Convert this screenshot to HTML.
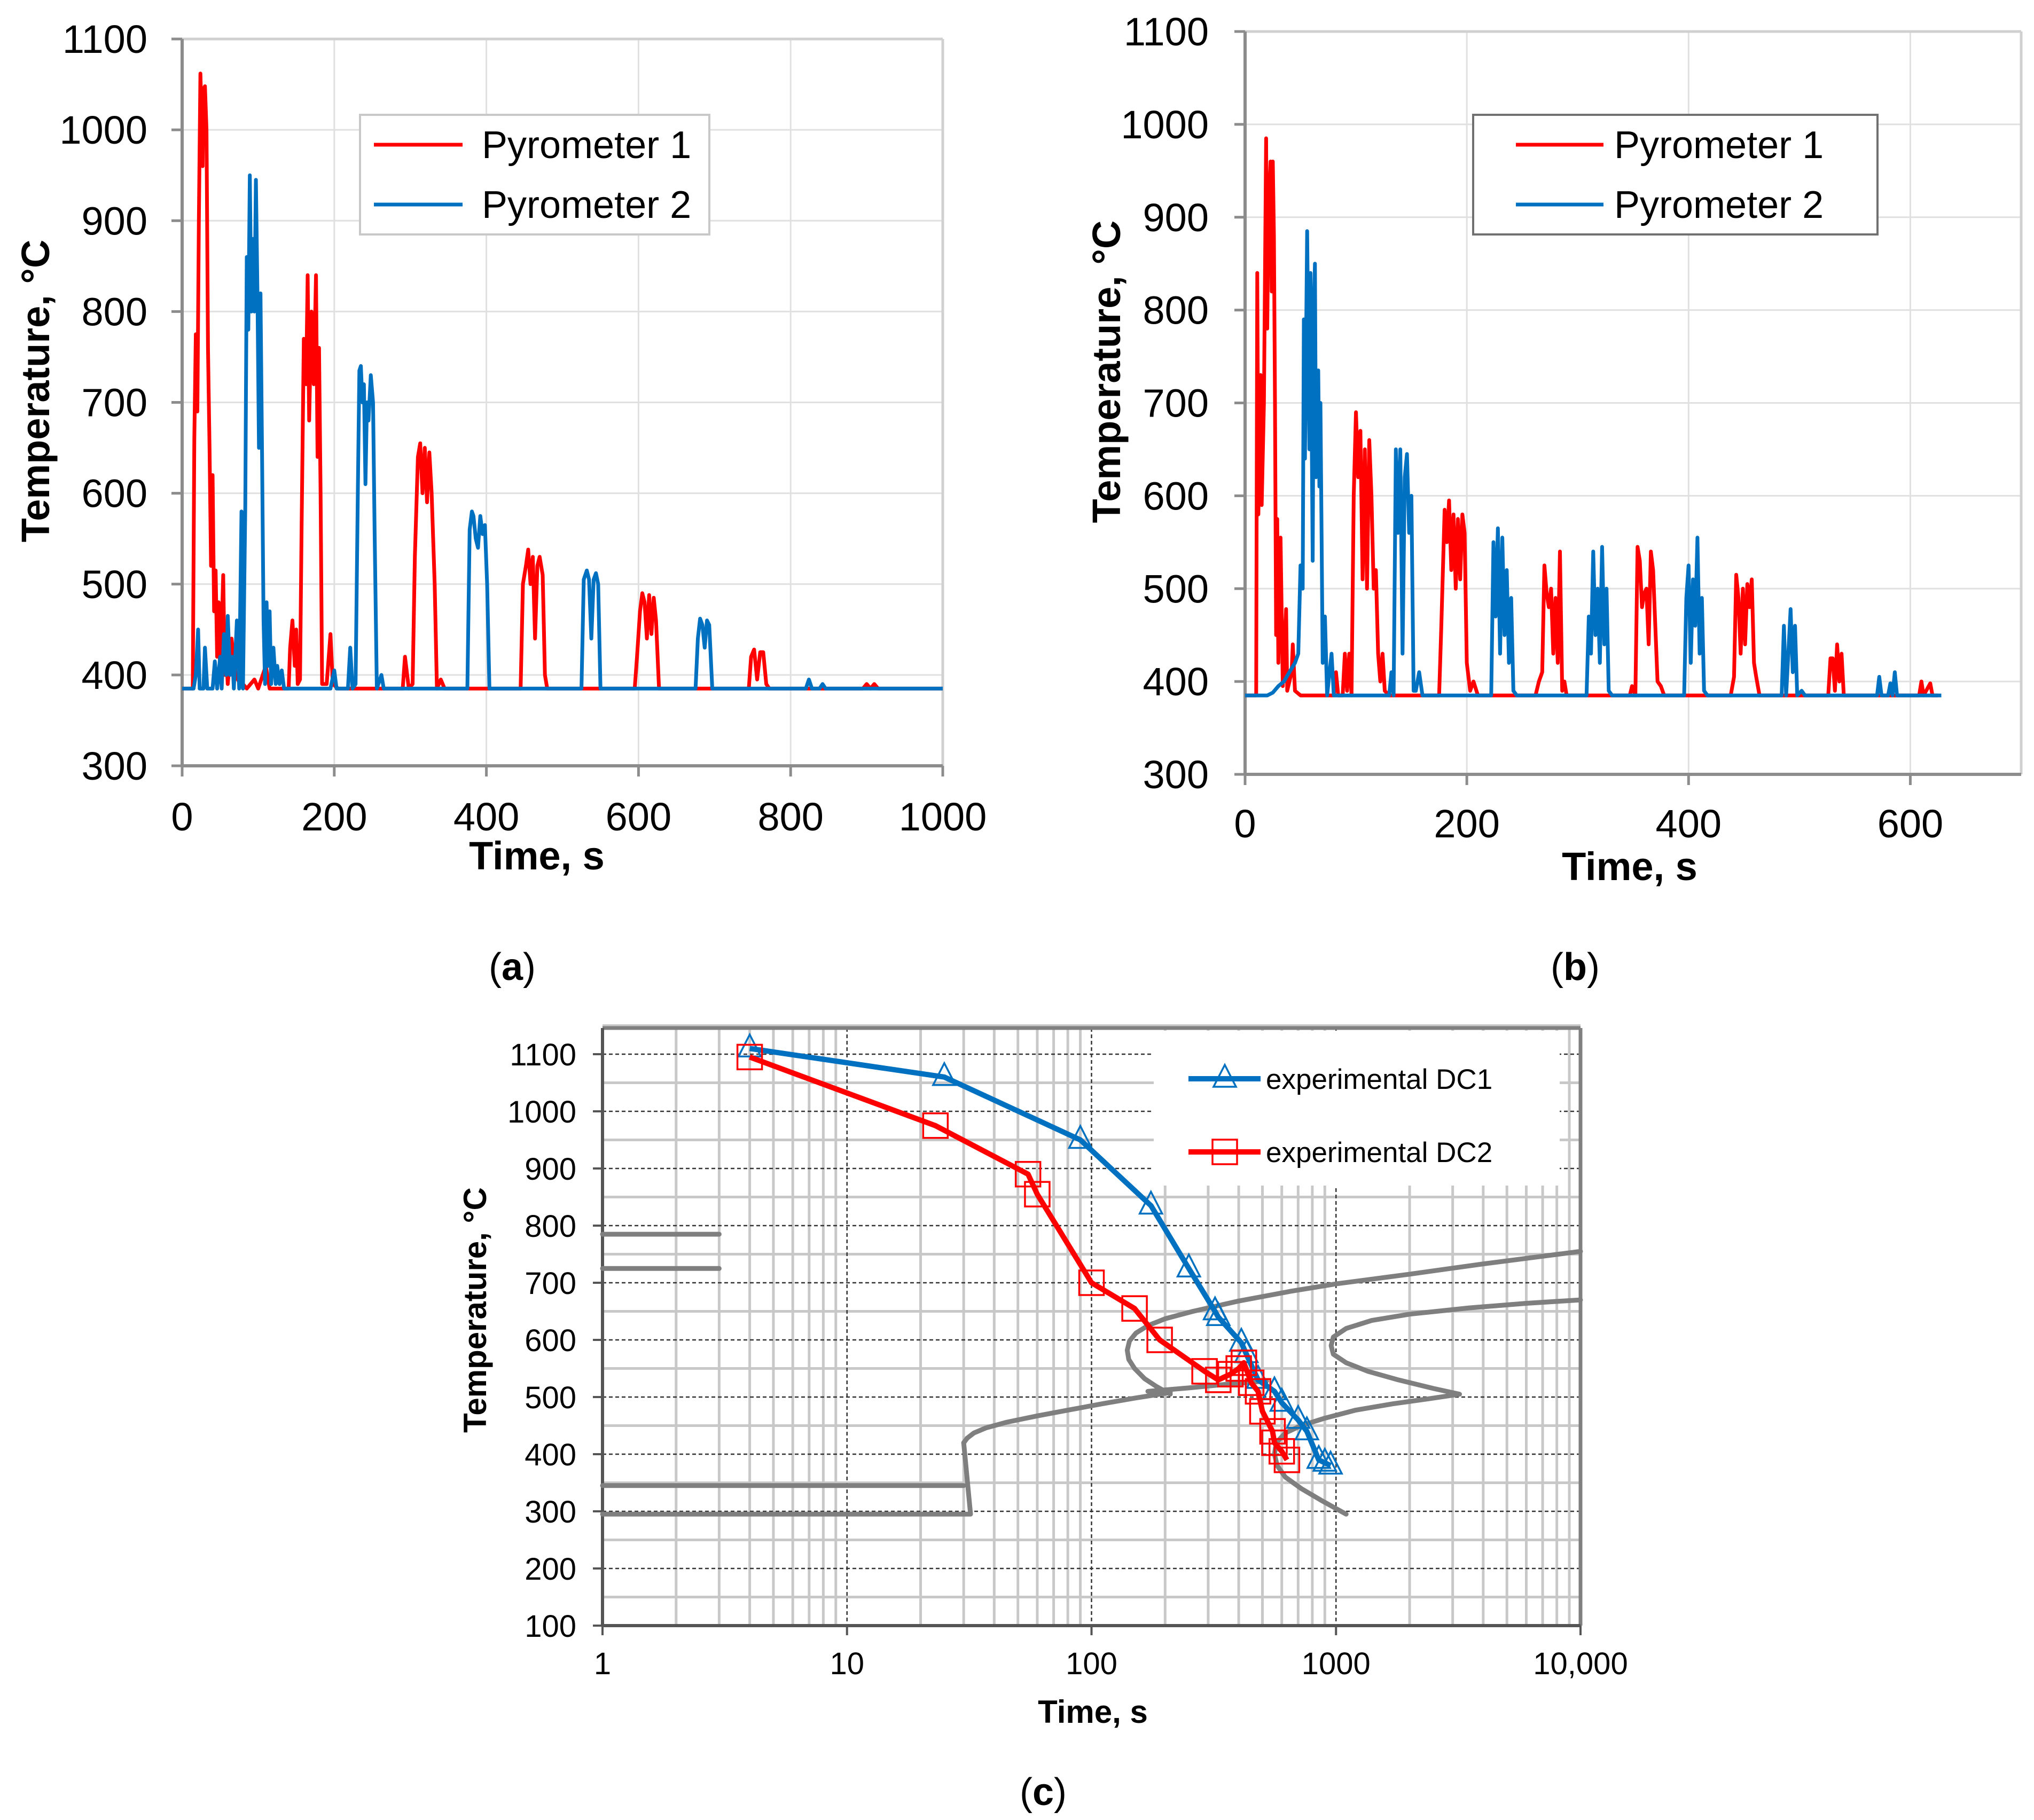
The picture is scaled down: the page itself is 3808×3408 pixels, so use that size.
<!DOCTYPE html>
<html><head><meta charset="utf-8"><style>
html,body{margin:0;padding:0;background:#fff}
svg{display:block}
text{font-family:"Liberation Sans",Arial,sans-serif}
</style></head><body>
<svg id="fig" width="3808" height="3408" viewBox="0 0 3808 3408" xmlns="http://www.w3.org/2000/svg">
<rect width="3808" height="3408" fill="#fff"/>
</svg>
<script>
// ---- Panel (a) data ----
const aYTicks = [300,400,500,600,700,800,900,1000,1100];
const aXTicks = [0,200,400,600,800,1000];
const aP1t = [0,14,16,18,20,22,24,26,27,28,30,32,34,36,38,40,42,44,46,48,50,52,54,56,58,60,65,70,75,80,85,95,100,110,115,140,142,145,148,150,152,155,157,160,163,165,167,170,173,176,178,180,182,184,190,195,198,205,290,293,298,303,306,310,313,316,319,322,325,328,332,335,340,345,445,448,452,455,458,461,464,467,470,474,477,480,595,598,602,605,608,611,614,617,620,623,627,745,748,752,756,760,764,768,772,895,900,905,910,915,1000];
const aP1v = [385,385,660,775,690,900,1062,1000,960,1045,1048,1000,760,650,520,620,470,515,420,480,400,450,510,400,420,390,440,400,392,390,385,395,385,410,385,385,430,460,410,450,390,395,560,770,720,840,680,800,720,840,640,760,600,390,390,445,390,385,385,420,385,390,530,640,655,600,650,590,645,600,500,385,395,385,385,500,520,538,500,530,440,520,530,510,400,385,385,420,470,490,480,440,488,445,485,460,385,385,420,428,395,425,425,390,385,385,390,385,390,385,385];
const aP2t = [0,15,18,21,23,28,30,33,40,43,46,50,52,55,58,60,63,66,68,72,75,78,80,83,85,87,89,91,93,95,97,99,101,103,105,107,109,111,113,115,117,120,123,125,128,131,134,195,200,203,218,221,224,228,231,233,235,237,239,241,243,245,248,251,253,256,262,265,375,378,381,383,386,389,392,395,398,401,404,525,528,532,535,538,541,544,547,550,675,678,681,684,687,690,693,697,820,824,828,838,842,846,1000];
const aP2v = [385,385,400,450,385,385,430,385,385,415,385,420,385,445,400,465,400,420,385,460,385,580,385,585,860,780,950,800,880,800,945,820,650,820,650,460,390,480,410,470,390,430,390,410,390,405,385,385,405,385,385,430,385,390,600,735,740,700,720,610,700,680,730,700,560,385,400,385,385,560,580,575,550,540,575,555,565,500,385,385,505,515,505,440,505,512,500,385,385,440,462,455,430,460,455,385,385,395,385,385,390,385,385];

// ---- Panel (b) data ----
const bYTicks = [300,400,500,600,700,800,900,1000,1100];
const bXTicks = [0,200,400,600];
const bP1t = [0,10,11,12,14,15,17,19,20,21,23,24,25,26,27,28,29,30,32,34,36,37,38,42,43,45,50,80,82,84,88,90,92,94,96,98,100,102,104,106,108,110,112,114,116,118,120,122,124,126,130,175,177,180,182,184,186,188,190,192,194,196,198,200,203,206,210,262,265,268,270,272,274,276,278,280,282,284,286,288,290,347,349,352,354,356,358,360,362,364,366,368,370,372,375,378,438,441,443,445,447,449,451,453,455,457,459,461,464,526,528,530,532,534,536,538,540,608,610,612,618,620,625];
const bP1v = [385,385,840,580,730,590,700,985,780,900,960,820,960,880,700,450,575,420,555,395,450,478,390,410,440,390,385,385,410,385,385,430,390,430,385,600,690,620,670,510,650,500,660,600,500,520,430,400,430,390,385,385,460,585,550,595,520,580,500,575,510,580,560,420,390,400,385,385,400,410,525,495,480,500,430,490,420,540,390,400,385,385,395,385,545,530,480,495,500,440,540,520,460,400,395,385,385,405,515,490,430,500,440,505,480,510,420,405,385,385,425,425,390,440,400,430,385,385,400,385,398,385,385];
const bP2t = [0,20,25,30,35,40,45,48,50,52,53,54,56,58,59,61,62,63,64,66,67,68,70,72,74,78,80,130,132,134,136,138,140,142,144,146,148,150,152,154,157,160,222,224,226,228,230,232,234,236,238,240,242,245,308,310,312,314,316,318,320,322,324,326,328,331,396,398,400,402,404,406,408,410,412,414,417,484,486,488,490,492,494,496,498,502,505,570,572,574,580,582,584,586,588,628];
const bP2v = [385,385,388,395,400,410,420,430,525,500,790,640,885,650,840,530,800,850,620,735,610,700,420,470,385,430,385,385,410,385,650,560,650,430,620,645,560,600,390,390,410,385,385,550,470,565,430,555,450,520,420,490,390,385,385,470,430,540,450,500,420,545,440,500,390,385,385,490,525,420,510,460,555,430,490,390,385,385,460,385,430,478,410,460,385,390,385,385,405,385,385,398,385,410,385,385];

// ---- Panel (c) data ----
const cYTicks = [100,200,300,400,500,600,700,800,900,1000,1100];
const cXTicks = [1,10,100,1000,10000];
const cXLabels = ["1","10","100","1000","10,000"];
const dc1t = [4,25,90,175,250,320,330,410,430,480,560,600,700,760,850,900,950];
const dc1v = [1110,1060,950,835,725,650,640,595,575,530,510,490,460,440,390,385,380];
const dc2t = [4,23,55,60,100,150,190,290,330,370,400,420,450,480,500,550,560,600,630];
const dc2v = [1095,975,890,855,700,655,600,545,530,540,550,560,525,510,475,440,420,405,390];
// CCT diagram curves (gray)
const ac3t = [1,3], ac3v = [785,785];
const ac1t = [1,3], ac1v = [725,725];
const mst = [1,30], msv = [345,345];
const mft = [1,32,30], mfv = [295,295,420];
const bsT = [30,31,33,37,45,60,80,110,150,190,210], bsV = [420,428,437,446,456,467,477,488,498,505,508];
const fsT = [210,185,165,150,142,140,143,152,170,200,260,400,650,1000,2000,4000,10000], fsV = [505,518,532,550,566,582,598,612,625,637,650,668,685,698,715,733,755];
const ffT = [10000,6000,3500,2000,1400,1100,975,955,975,1100,1350,1800,2500,3200,2400,1700,1200,900,720,620,570,560,575,620,720,880,1100];
const ffV = [670,664,656,645,634,620,605,590,575,560,545,530,515,505,497,488,477,463,450,437,420,400,380,360,340,318,295];
const bLowT = [170,250,350,450,520], bLowV = [510,516,522,526,528];

const NS = "http://www.w3.org/2000/svg";
const fig = document.getElementById('fig');
function mk(tag, attrs, parent){const e=document.createElementNS(NS,tag);for(const k in attrs)e.setAttribute(k,attrs[k]);(parent||fig).appendChild(e);return e;}
function txt(s, attrs, parent){const e=mk('text',attrs,parent);e.textContent=s;return e;}

function linePanel(cfg){
  const g = mk('g',{});
  
  
  const X = v => cfg.L + (v - cfg.x0)/(cfg.x1 - cfg.x0)*(cfg.R - cfg.L);
  const Y = v => cfg.B - (v - 300)/(800)*(cfg.B - cfg.T);
  cfg.yTicks.forEach(t=>{ if(t>300){const l=mk('line',{x1:cfg.L,x2:cfg.R,y1:Y(t),y2:Y(t),stroke:'#e0e0e0','stroke-width':3},g);
    
    }});
  cfg.xTicks.forEach(t=>{ if(t>0){const l=mk('line',{x1:X(t),x2:X(t),y1:cfg.T,y2:cfg.B,stroke:'#e0e0e0','stroke-width':3},g);
    
    }});
  mk('line',{x1:cfg.L,x2:cfg.R,y1:cfg.T,y2:cfg.T,stroke:'#d0d0d0','stroke-width':5},g);
  mk('line',{x1:cfg.R,x2:cfg.R,y1:cfg.T,y2:cfg.B,stroke:'#d0d0d0','stroke-width':5},g);
  const ax=mk('line',{x1:cfg.L,x2:cfg.L,y1:cfg.T,y2:cfg.B,stroke:'#8c8c8c','stroke-width':6},g);
  
  
  const bx=mk('line',{x1:cfg.L,x2:cfg.R,y1:cfg.B,y2:cfg.B,stroke:'#8c8c8c','stroke-width':6},g);
  
  
  cfg.yTicks.forEach(t=>{
    mk('line',{x1:cfg.L-20,x2:cfg.L,y1:Y(t),y2:Y(t),stroke:'#8c8c8c','stroke-width':5},g);
    const e=txt(String(t),{x:cfg.ylx,y:Y(t)+26,'text-anchor':'end','font-size':74,fill:'#000'},g);
    
    
  });
  cfg.xTicks.forEach(t=>{
    mk('line',{x1:X(t),x2:X(t),y1:cfg.B,y2:cfg.B+20,stroke:'#8c8c8c','stroke-width':5},g);
    const e=txt(String(t),{x:X(t),y:cfg.xly,'text-anchor':'middle','font-size':74,fill:'#000'},g);
    
    
  });
  const yt=txt('Temperature, °C',{x:0,y:0,'text-anchor':'middle','font-size':74,'font-weight':'bold',transform:`translate(${cfg.ytx},${cfg.yty}) rotate(-90)`},g);
  
  
  const xt=txt('Time, s',{x:cfg.xtx,y:cfg.xty,'text-anchor':'middle','font-size':74,'font-weight':'bold'},g);
  
  
  const pts=(ts,vs)=>ts.map((t,i)=>X(t).toFixed(1)+','+Y(vs[i]).toFixed(1)).join(' ');
  const s1=mk('polyline',{points:pts(cfg.p1t,cfg.p1v),fill:'none',stroke:'#ff0000','stroke-width':7,'stroke-linejoin':'round'},g);
  
  
  const s2=mk('polyline',{points:pts(cfg.p2t,cfg.p2v),fill:'none',stroke:'#0070c0','stroke-width':7,'stroke-linejoin':'round'},g);
  
  
  const lg=mk('g',{},g);
  
  
  const [lx,ly,lw,lh]=cfg.leg;
  mk('rect',{x:lx,y:ly,width:lw,height:lh,fill:'#fff',stroke:cfg.legStroke,'stroke-width':4},lg);
  [['Pyrometer 1','#ff0000',ly+56],['Pyrometer 2','#0070c0',ly+168]].forEach(([n,c,yy])=>{
    const le=mk('g',{},lg);
    
    
    mk('line',{x1:cfg.legL1,x2:cfg.legL2,y1:yy,y2:yy,stroke:c,'stroke-width':7},le);
    txt(n,{x:cfg.legTx,y:yy+25,'font-size':72},le);
  });
}

linePanel({name:'chart-a',L:341,R:1765,T:73,B:1434,x0:0,x1:1000,yTicks:aYTicks,xTicks:aXTicks,
  ylx:276,xly:1555,ytx:92,yty:732,xtx:1005,xty:1628,p1t:aP1t,p1v:aP1v,p2t:aP2t,p2v:aP2v,
  leg:[674,215,654,224],legStroke:'#c8c8c8',legL1:700,legL2:866,legTx:902});
linePanel({name:'chart-b',L:2331,R:3784,T:59,B:1450,x0:0,x1:700,yTicks:bYTicks,xTicks:bXTicks,
  ylx:2263,xly:1568,ytx:2097,yty:696,xtx:3051,xty:1648,p1t:bP1t,p1v:bP1v,p2t:bP2t,p2v:bP2v,
  leg:[2758,215,757,224],legStroke:'#707070',legL1:2838,legL2:3002,legTx:3022});

// ---- Panel (c) ----
(function(){
  const g=mk('g',{});
  
  
  const L=1128,R=2959,T=1925,B=3044;
  const X=v=>L+Math.log10(v)/4*(R-L);
  const Y=v=>B-(v-100)/1000*(B-1974);
  for(let d=0;d<4;d++){for(let m=2;m<=9;m++){const l=mk('line',{x1:X(m*Math.pow(10,d)),x2:X(m*Math.pow(10,d)),y1:T,y2:B,stroke:'#c8c8c8','stroke-width':5},g);
    
    }}
  for(let v=150;v<=1150;v+=100){const l=mk('line',{x1:L,x2:R,y1:Y(v),y2:Y(v),stroke:'#c8c8c8','stroke-width':5},g);
    
    }
  cXTicks.forEach(t=>{const l=mk('line',{x1:X(t),x2:X(t),y1:T,y2:B,stroke:'#333','stroke-width':2.5,'stroke-dasharray':'7 5'},g);
    
    });
  cYTicks.forEach(t=>{const l=mk('line',{x1:L,x2:R,y1:Y(t),y2:Y(t),stroke:'#333','stroke-width':2.5,'stroke-dasharray':'7 5'},g);
    
    });
  const lgb=mk('rect',{x:2160,y:1930,width:760,height:290,fill:'#fff'},g);
  
  
  mk('line',{x1:L,x2:R,y1:T,y2:T,stroke:'#808080','stroke-width':7},g);
  mk('line',{x1:R,x2:R,y1:T,y2:B,stroke:'#808080','stroke-width':7},g);
  const ya=mk('line',{x1:L,x2:L,y1:T,y2:B,stroke:'#555','stroke-width':6},g);
  
  
  const xa=mk('line',{x1:L,x2:R,y1:B,y2:B,stroke:'#555','stroke-width':6},g);
  
  
  cYTicks.forEach(t=>{
    mk('line',{x1:L-18,x2:L,y1:Y(t),y2:Y(t),stroke:'#555','stroke-width':4},g);
    const e=txt(String(t),{x:1079,y:Y(t)+21,'text-anchor':'end','font-size':58},g);
    
    
  });
  cXTicks.forEach((t,i)=>{
    mk('line',{x1:X(t),x2:X(t),y1:B,y2:B+18,stroke:'#555','stroke-width':4},g);
    const e=txt(cXLabels[i],{x:X(t),y:3135,'text-anchor':'middle','font-size':58},g);
    
    
  });
  const yt=txt('Temperature, °C',{x:0,y:0,'text-anchor':'middle','font-size':60,'font-weight':'bold',transform:'translate(910,2453) rotate(-90)'},g);
  
  
  const xt=txt('Time, s',{x:2046,y:3226,'text-anchor':'middle','font-size':60,'font-weight':'bold'},g);
  
  
  const pts=(ts,vs)=>ts.map((t,i)=>X(t).toFixed(1)+','+Y(vs[i]).toFixed(1)).join(' ');
  [[ac3t,ac3v,'ac3-line'],[ac1t,ac1v,'ac1-line'],[mst,msv,'ms-line'],[mft,mfv,'mf-line'],[bsT,bsV,'bainite-start-curve'],[fsT,fsV,'ferrite-start-curve'],[ffT,ffV,'transformation-finish-curve'],[bLowT,bLowV,'bainite-connector-curve']].forEach(([t,v,n])=>{
    const p=mk('polyline',{points:pts(t,v),fill:'none',stroke:'#7f7f7f','stroke-width':9,'stroke-linejoin':'round','stroke-linecap':'round'},g);
    
    
  });
  const l1=mk('polyline',{points:pts(dc1t,dc1v),fill:'none',stroke:'#0070c0','stroke-width':10,'stroke-linejoin':'round'},g);
  
  
  dc1t.forEach((t,i)=>{const x=X(t),y=Y(dc1v[i]);
    const m=mk('polygon',{points:`${x},${y-26} ${x-21},${y+15} ${x+21},${y+15}`,fill:'none',stroke:'#0070c0','stroke-width':3.5},g);
    
    });
  const l2=mk('polyline',{points:pts(dc2t,dc2v),fill:'none',stroke:'#ff0000','stroke-width':10,'stroke-linejoin':'round'},g);
  
  
  dc2t.forEach((t,i)=>{const x=X(t),y=Y(dc2v[i]);
    const m=mk('rect',{x:x-23,y:y-23,width:46,height:46,fill:'none',stroke:'#ff0000','stroke-width':3.5},g);
    
    });
  const lg=mk('g',{},g);
  
  
  [['experimental DC1','#0070c0',2020,'tri'],['experimental DC2','#ff0000',2157,'sq']].forEach(([n,c,yy,s])=>{
    const le=mk('g',{},lg);
    
    
    mk('line',{x1:2225,x2:2360,y1:yy,y2:yy,stroke:c,'stroke-width':10},le);
    if(s==='tri') mk('polygon',{points:`2293,${yy-26} 2272,${yy+15} 2314,${yy+15}`,fill:'none',stroke:c,'stroke-width':3.5},le);
    else mk('rect',{x:2270,y:yy-23,width:46,height:46,fill:'none',stroke:c,'stroke-width':3.5},le);
    txt(n,{x:2370,y:yy+19,'font-size':53},le);
  });
})();

[['a',959,1835],['b',2949,1835],['c',1953,3380]].forEach(([c,x,y])=>{
  const t=mk('text',{x:x,y:y,'text-anchor':'middle','font-size':72,'font-family':'"Liberation Serif",serif'});
  
  
  const a=mk('tspan',{},t);a.textContent='(';
  const b=mk('tspan',{'font-weight':'bold'},t);b.textContent=c;
  const d=mk('tspan',{},t);d.textContent=')';
});
</script>
</body></html>
